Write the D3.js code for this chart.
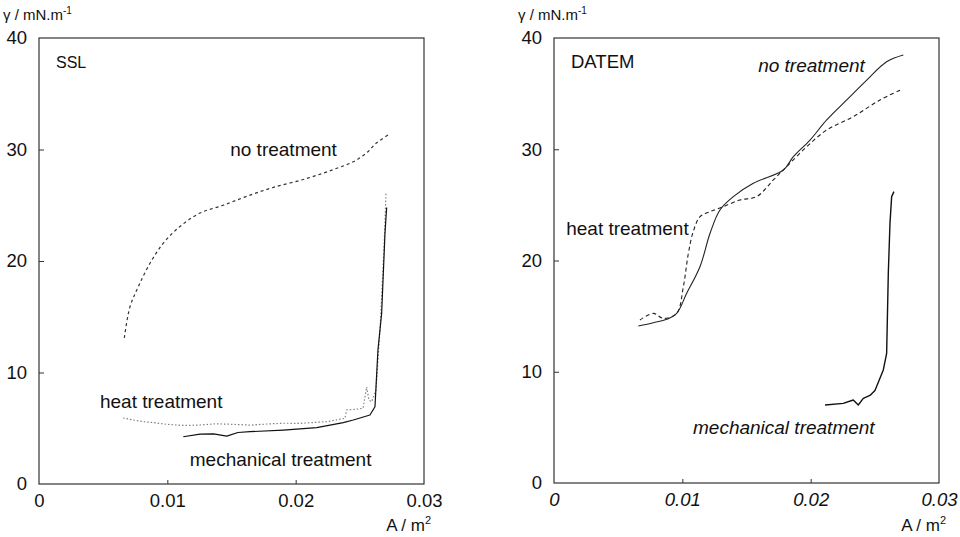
<!DOCTYPE html>
<html>
<head>
<meta charset="utf-8">
<script src="https://cdn.jsdelivr.net/npm/d3@7"></script>
<style>
  html, body { margin: 0; padding: 0; background: #fff; }
  svg { display: block; }
  text { font-family: "Liberation Sans", Arial, Helvetica, sans-serif; fill: #111; }
</style>
</head>
<body>
<svg id="chart" width="960" height="537"></svg>
<script>
// Surface pressure isotherms, γ (mN/m) against area A (m²)

const xTicks = [0, 0.01, 0.02, 0.03];
const yTicks = [0, 10, 20, 30, 40];
const xTickLabels = ["0", "0.01", "0.02", "0.03"];
const yTickLabels = ["0", "10", "20", "30", "40"];

// SSL panel
const sslNoTreatmentA = [0.00665, 0.00709, 0.00774, 0.00865, 0.00969, 0.01099, 0.01255, 0.01436, 0.01618, 0.01826, 0.02086, 0.02293, 0.02449, 0.02553, 0.02631, 0.0272];
const sslNoTreatmentG = [13.1, 15.9, 17.7, 19.8, 21.6, 23.1, 24.3, 25.0, 25.8, 26.6, 27.4, 28.2, 28.9, 29.7, 30.6, 31.3];

const sslHeatA = [0.00655, 0.0073, 0.0081, 0.0090, 0.00997, 0.0113, 0.01255, 0.0138, 0.01512, 0.0165, 0.01777, 0.0190, 0.02034, 0.02244, 0.02384, 0.02398, 0.0247, 0.02525, 0.02553, 0.02571, 0.02592, 0.02626, 0.02657, 0.02688, 0.02704];
const sslHeatG = [5.92, 5.75, 5.59, 5.50, 5.35, 5.25, 5.29, 5.40, 5.35, 5.28, 5.38, 5.45, 5.44, 5.59, 5.89, 6.64, 6.70, 6.79, 8.70, 7.53, 7.38, 8.43, 13.8, 21.0, 26.1];

const sslMechA = [0.01124, 0.01255, 0.0136, 0.01463, 0.0155, 0.01644, 0.01904, 0.02164, 0.02371, 0.02449, 0.02579, 0.02618, 0.02626, 0.02641, 0.0267, 0.02696, 0.02709];
const sslMechG = [4.24, 4.48, 4.50, 4.30, 4.62, 4.69, 4.84, 5.05, 5.50, 5.74, 6.19, 6.93, 8.70, 12.0, 15.3, 22.5, 24.8];

// DATEM panel
const datemNoTreatmentA = [0.00657, 0.00774, 0.00878, 0.00956, 0.01034, 0.01138, 0.01216, 0.01293, 0.01397, 0.01553, 0.01787, 0.01865, 0.01995, 0.02125, 0.02281, 0.02437, 0.02592, 0.02722];
const datemNoTreatmentG = [14.11, 14.41, 14.71, 15.25, 17.05, 19.46, 22.45, 24.54, 25.74, 26.94, 28.13, 29.33, 30.83, 32.63, 34.43, 36.22, 37.87, 38.47];

const datemHeatA = [0.0067, 0.00774, 0.00852, 0.00956, 0.01008, 0.01047, 0.01085, 0.01138, 0.01216, 0.01319, 0.01449, 0.01579, 0.01709, 0.01813, 0.01969, 0.02125, 0.02332, 0.0254, 0.02709];
const datemHeatG = [14.65, 15.25, 14.8, 15.25, 17.65, 20.64, 22.59, 23.94, 24.39, 24.84, 25.44, 25.74, 27.24, 28.44, 30.23, 31.73, 32.93, 34.43, 35.38];

const datemMechA = [0.02112, 0.02254, 0.02332, 0.02371, 0.0241, 0.02462, 0.02501, 0.02566, 0.02592, 0.02605, 0.02618, 0.02631, 0.02649];
const datemMechG = [7.01, 7.16, 7.46, 7.01, 7.61, 7.87, 8.31, 10.16, 11.66, 18.85, 23.34, 25.74, 26.19];

const zip = (a, g) => a.map((v, i) => ({ a: v, g: g[i] }));

const panels = [
  {
    name: "SSL", nameSize: 16, left: 39, right: 424, top: 38, bottom: 484, italicX: false,
    series: [
      { data: zip(sslNoTreatmentA, sslNoTreatmentG), stroke: "#333", width: 1.2, dash: "3,3", smooth: true },
      { data: zip(sslHeatA, sslHeatG), stroke: "#808080", width: 1.2, dash: "1.5,2", smooth: false },
      { data: zip(sslMechA, sslMechG), stroke: "#111", width: 1.2, dash: null, smooth: false }
    ],
    labels: [
      { text: "no treatment", a: 0.0149, g: 29.4, italic: false },
      { text: "heat treatment", a: 0.00475, g: 6.8, italic: false },
      { text: "mechanical treatment", a: 0.01175, g: 1.6, italic: false }
    ]
  },
  {
    name: "DATEM", nameSize: 18.5, left: 554, right: 939, top: 38, bottom: 483, italicX: true,
    series: [
      { data: zip(datemNoTreatmentA, datemNoTreatmentG), stroke: "#222", width: 1.1, dash: null, smooth: true },
      { data: zip(datemHeatA, datemHeatG), stroke: "#222", width: 1.1, dash: "4,3", smooth: true },
      { data: zip(datemMechA, datemMechG), stroke: "#111", width: 1.4, dash: null, smooth: false }
    ],
    labels: [
      { text: "no treatment", a: 0.01591, g: 36.9, italic: true },
      { text: "heat treatment", a: 0.00095, g: 22.3, italic: false },
      { text: "mechanical treatment", a: 0.01083, g: 4.4, italic: true }
    ]
  }
];

const svg = d3.select("#chart");

panels.forEach(p => {
  const x = d3.scaleLinear().domain([0, 0.03]).range([p.left, p.right]);
  const y = d3.scaleLinear().domain([0, 40]).range([p.bottom, p.top]);
  const g = svg.append("g");

  // frame
  g.append("rect")
    .attr("x", p.left).attr("y", p.top)
    .attr("width", p.right - p.left).attr("height", p.bottom - p.top)
    .attr("fill", "none").attr("stroke", "#333").attr("stroke-width", 1.2);

  // y axis: inward ticks, labels on the left
  const yAxis = d3.axisLeft(y).tickValues(yTicks)
    .tickFormat((d, i) => yTickLabels[i]).tickSizeInner(-5).tickSizeOuter(0).tickPadding(12);
  const ya = g.append("g").attr("transform", `translate(${p.left},0)`).call(yAxis);
  ya.select(".domain").remove();
  ya.selectAll(".tick line").attr("stroke", "#333").filter(d => d === 0 || d === 40).remove();
  ya.selectAll(".tick text").style("font-size", "18.5px").attr("fill", "#111")
    .attr("font-family", "Liberation Sans, Arial, sans-serif");

  // x axis: labels below
  const xAxis = d3.axisBottom(x).tickValues(xTicks)
    .tickFormat((d, i) => xTickLabels[i]).tickSizeInner(-4).tickSizeOuter(0).tickPadding(10);
  const xa = g.append("g").attr("transform", `translate(0,${p.bottom})`).call(xAxis);
  xa.select(".domain").remove();
  xa.selectAll(".tick line").attr("stroke", "#333").filter(d => d === 0 || d === 0.03).remove();
  xa.selectAll(".tick text").style("font-size", "18.5px").attr("fill", "#111")
    .attr("font-family", "Liberation Sans, Arial, sans-serif")
    .style("font-style", p.italicX ? "italic" : "normal");

  // axis titles
  const yt = g.append("text")
    .attr("x", p.left - 36).attr("y", 20)
    .style("font-size", "15px");
  yt.append("tspan").text("γ / mN.m");
  yt.append("tspan").attr("dy", -6).style("font-size", "10px").text("-1");

  const xt = g.append("text")
    .attr("x", p.right + 7).attr("y", 531)
    .attr("text-anchor", "end")
    .style("font-size", "17px");
  xt.append("tspan").text("A / m");
  xt.append("tspan").attr("dy", -7).style("font-size", "11px").text("2");

  // panel name
  g.append("text")
    .attr("x", p.left + 17).attr("y", 68)
    .style("font-size", p.nameSize + "px")
    .text(p.name);

  // curves
  p.series.forEach(s => {
    const line = d3.line()
      .x(d => x(d.a)).y(d => y(d.g))
      .curve(s.smooth ? d3.curveCatmullRom.alpha(0.5) : d3.curveLinear);
    g.append("path")
      .datum(s.data)
      .attr("d", line)
      .attr("fill", "none")
      .attr("stroke", s.stroke)
      .attr("stroke-width", s.width)
      .attr("stroke-linejoin", "round")
      .attr("stroke-dasharray", s.dash);
  });

  // curve labels
  p.labels.forEach(l => {
    g.append("text")
      .attr("x", x(l.a)).attr("y", y(l.g))
      .style("font-size", "19px")
      .style("font-style", l.italic ? "italic" : "normal")
      .text(l.text);
  });
});
</script>
</body>
</html>
